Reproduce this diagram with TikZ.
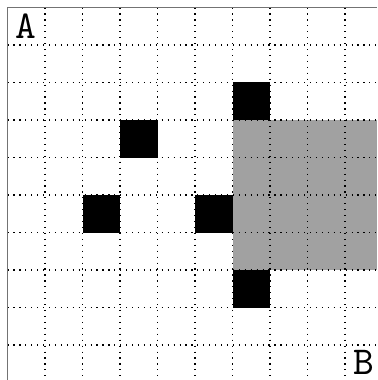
\documentclass[tikz,border=0pt]{standalone}
\usepackage{fontspec}
\newfontfamily\labfont{lmmono10-regular.otf}
\begin{document}
\begin{tikzpicture}[x=1cm,y=1cm,
  blk/.style={fill=black},
  shade/.style={fill=black!37},
  gridline/.style={line width=0.9pt,dash pattern=on 0.9pt off 3.6pt,black},
  frame/.style={draw=black!55,line width=0.8pt},
  lab/.style={font=\fontsize{30}{30}\selectfont\labfont,inner sep=0pt}]
\useasboundingbox (-0.2,0.2) rectangle (9.853,-9.933);
% gray region
\fill[shade] (6,-3) rectangle (9.853,-7);
% black squares
\fill[blk] (6,-2) rectangle (7,-3);
\fill[blk] (3,-3) rectangle (4,-4);
\fill[blk] (2,-5) rectangle (3,-6);
\fill[blk] (5,-5) rectangle (6,-6);
\fill[blk] (6,-7) rectangle (7,-8);
% dotted grid
\foreach \i in {1,...,9} {
  \draw[gridline] (\i,0) -- (\i,-9.933);
  \draw[gridline] (0,-\i) -- (9.853,-\i);
}
% frame (top and left)
\draw[frame] (0,-9.933) -- (0,0) -- (9.853,0);
% labels
\node[lab] (A) at (0.5,-0.5) {A};
\node[lab] (B) at (9.5,-9.47) {B};
\end{tikzpicture}
\end{document}
